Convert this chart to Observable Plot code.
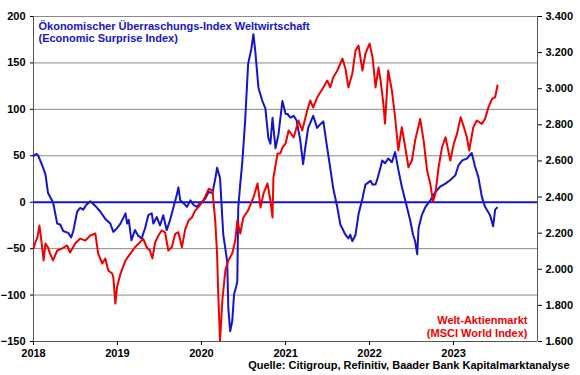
<!DOCTYPE html>
<html><head><meta charset="utf-8">
<script src="https://cdn.jsdelivr.net/npm/d3@7"></script>
<script src="https://cdn.jsdelivr.net/npm/@observablehq/plot@0.6"></script>
<style>body{margin:0;background:#fff}</style>
</head><body><div id="chart"></div>
<script>
// Economic Surprise Index (left axis)
const esiSeries = [["2018-01-01",50],["2018-01-14",52],["2018-01-22",50],["2018-02-09",39],["2018-02-22",30],["2018-03-05",10],["2018-03-27",0],["2018-04-14",-23],["2018-04-27",-24],["2018-05-10",-31],["2018-06-01",-33],["2018-06-14",-38],["2018-06-23",-31],["2018-07-10",-10],["2018-07-23",-6],["2018-08-05",-8],["2018-08-18",-3],["2018-09-05",1],["2018-09-27",-4],["2018-10-18",-10],["2018-11-09",-18],["2018-12-01",-23],["2018-12-14",-32],["2018-12-30",-28],["2019-01-14",-23],["2019-02-05",-12],["2019-02-12",-23],["2019-02-19",-19],["2019-03-03",-41],["2019-03-18",-30],["2019-04-01",-36],["2019-04-16",-39],["2019-05-01",-28],["2019-05-15",-14],["2019-05-30",-12],["2019-06-06",-23],["2019-06-21",-16],["2019-07-05",-25],["2019-07-19",-14],["2019-08-03",-30],["2019-08-18",-19],["2019-09-02",-5],["2019-09-16",8],["2019-09-23",16],["2019-10-01",2],["2019-10-15",-1],["2019-10-30",-5],["2019-11-14",2],["2019-11-28",-3],["2019-12-12",-5],["2019-12-27",-1],["2020-01-18",4],["2020-02-01",11],["2020-02-18",10],["2020-03-01",25],["2020-03-09",37],["2020-03-22",26],["2020-04-05",-35],["2020-04-14",-50],["2020-04-22",-64],["2020-04-27",-114],["2020-05-05",-139],["2020-05-14",-128],["2020-05-22",-99],["2020-06-01",-90],["2020-06-05",-85],["2020-06-09",-6],["2020-06-18",20],["2020-06-27",44],["2020-07-09",87],["2020-07-22",149],["2020-08-05",165],["2020-08-14",181],["2020-08-22",163],["2020-09-05",123],["2020-09-22",109],["2020-10-05",101],["2020-10-18",69],["2020-10-27",63],["2020-11-05",91],["2020-11-18",58],["2020-12-01",73],["2020-12-18",109],["2021-01-01",95],["2021-01-09",95],["2021-01-22",91],["2021-02-05",93],["2021-02-18",88],["2021-02-26",77],["2021-03-05",68],["2021-03-18",41],["2021-03-27",58],["2021-04-09",80],["2021-05-01",93],["2021-05-18",80],["2021-06-01",84],["2021-06-14",87],["2021-07-01",58],["2021-07-14",37],["2021-07-27",15],["2021-08-14",-6],["2021-08-27",-24],["2021-09-18",-35],["2021-10-01",-39],["2021-10-09",-35],["2021-10-18",-42],["2021-11-01",-35],["2021-11-14",-13],["2021-12-01",4],["2021-12-14",19],["2022-01-05",23],["2022-01-14",19],["2022-01-27",19],["2022-02-05",26],["2022-02-18",38],["2022-02-25",45],["2022-03-09",42],["2022-03-23",47],["2022-04-08",43],["2022-04-22",54],["2022-05-06",35],["2022-05-21",17],["2022-06-05",2],["2022-06-19",-12],["2022-06-27",-20],["2022-07-09",-35],["2022-07-18",-42],["2022-07-27",-56],["2022-08-02",-28],["2022-08-16",-14],["2022-09-01",-5],["2022-09-22",2],["2022-10-14",11],["2022-11-05",17],["2022-11-27",20],["2022-12-18",24],["2023-01-09",29],["2023-01-23",40],["2023-02-08",45],["2023-02-28",47],["2023-03-21",53],["2023-04-05",38],["2023-04-19",27],["2023-05-04",6],["2023-05-18",-5],["2023-06-09",-14],["2023-06-22",-26],["2023-07-01",-8],["2023-07-09",-6]];

// MSCI World Index (right axis)
const msciSeries = [["2018-01-01",2115],["2018-01-09",2150],["2018-01-18",2176],["2018-01-27",2242],["2018-02-05",2150],["2018-02-14",2049],["2018-02-22",2143],["2018-03-05",2121],["2018-03-14",2087],["2018-03-27",2049],["2018-04-14",2104],["2018-05-05",2115],["2018-05-27",2132],["2018-06-09",2093],["2018-07-01",2143],["2018-07-23",2170],["2018-08-14",2159],["2018-09-05",2187],["2018-09-27",2198],["2018-10-09",2087],["2018-10-27",2032],["2018-11-09",2060],["2018-11-22",1993],["2018-12-09",1977],["2018-12-14",1956],["2018-12-23",1810],["2018-12-30",1901],["2019-01-14",1975],["2019-02-05",2049],["2019-02-26",2087],["2019-03-18",2122],["2019-04-09",2150],["2019-04-23",2169],["2019-05-08",2122],["2019-05-22",2104],["2019-06-02",2060],["2019-06-14",2150],["2019-06-28",2187],["2019-07-12",2215],["2019-07-27",2205],["2019-08-10",2104],["2019-08-25",2122],["2019-09-09",2196],["2019-09-23",2205],["2019-10-08",2122],["2019-10-23",2224],["2019-11-06",2270],["2019-11-21",2288],["2019-12-05",2325],["2019-12-19",2344],["2020-01-10",2381],["2020-02-02",2446],["2020-02-18",2436],["2020-03-01",2270],["2020-03-09",2087],["2020-03-14",1866],["2020-03-22",1605],["2020-04-01",1827],["2020-04-14",1993],["2020-04-27",2049],["2020-05-14",2087],["2020-05-27",2159],["2020-06-05",2270],["2020-06-18",2198],["2020-07-01",2287],["2020-07-22",2326],["2020-08-14",2398],["2020-09-01",2475],["2020-09-14",2342],["2020-09-27",2420],["2020-10-14",2475],["2020-10-27",2381],["2020-11-05",2287],["2020-11-09",2508],["2020-11-27",2641],["2020-12-09",2641],["2020-12-18",2674],["2021-01-01",2697],["2021-01-14",2769],["2021-02-05",2730],["2021-02-26",2824],["2021-03-14",2769],["2021-04-05",2879],["2021-04-18",2935],["2021-05-01",2896],["2021-05-18",2951],["2021-06-14",3007],["2021-07-01",3045],["2021-07-14",3007],["2021-07-27",3062],["2021-08-14",3101],["2021-08-27",3140],["2021-09-05",3167],["2021-09-18",3112],["2021-10-01",3007],["2021-10-18",3084],["2021-11-01",3211],["2021-11-14",3239],["2021-12-01",3101],["2021-12-14",3195],["2022-01-01",3250],["2022-01-14",3173],["2022-01-27",3007],["2022-02-09",3117],["2022-02-18",3045],["2022-03-02",2916],["2022-03-09",2807],["2022-03-23",3101],["2022-04-08",2990],["2022-04-22",2842],["2022-05-06",2658],["2022-05-21",2787],["2022-06-05",2676],["2022-06-19",2565],["2022-07-04",2602],["2022-07-18",2713],["2022-08-09",2833],["2022-08-24",2713],["2022-09-08",2547],["2022-09-22",2473],["2022-10-04",2375],["2022-10-14",2418],["2022-10-28",2565],["2022-11-12",2676],["2022-11-27",2731],["2022-12-18",2602],["2023-01-02",2695],["2023-01-16",2750],["2023-02-01",2842],["2023-02-15",2787],["2023-02-28",2731],["2023-03-10",2658],["2023-03-28",2787],["2023-04-12",2824],["2023-05-04",2805],["2023-05-18",2833],["2023-06-02",2898],["2023-06-17",2944],["2023-07-01",2953],["2023-07-11",3018]];

const leftTicks = [-150, -100, -50, 0, 50, 100, 150, 200];
const rightTicks = [1600, 1800, 2000, 2200, 2400, 2600, 2800, 3000, 3200, 3400];
const yearTicks = ["2018-01-01", "2019-01-01", "2020-01-01", "2021-01-01", "2022-01-01", "2023-01-01"];
const xDomain = ["2018-01-01", "2024-01-01"];

const titleText = "Ökonomischer Überraschungs-Index Weltwirtschaft\n(Economic Surprise Index)";
const msciLabel = "Welt-Aktienmarkt\n(MSCI World Index)";
const sourceText = "Quelle: Citigroup, Refinitiv, Baader Bank Kapitalmarktanalyse";

const BLUE = "#1414cc", RED = "#f00000";

// right axis range mapped onto left axis range
const L0 = -150, L1 = 200, R0 = 1600, R1 = 3400;
const toLeft = v => L0 + (v - R0) / (R1 - R0) * (L1 - L0);
const fromLeft = v => R0 + (v - L0) / (L1 - L0) * (R1 - R0);

const de = d3.formatLocale({decimal: ",", thousands: ".", grouping: [3], currency: ["", " €"]});
const fmtDe = de.format(",.0f");

const esi = esiSeries.map(([d, v]) => ({date: new Date(d), value: v}));
const msci = msciSeries.map(([d, v]) => ({date: new Date(d), value: v}));
const xd = xDomain.map(d => new Date(d));

const chart = Plot.plot({
  width: 580, height: 375,
  marginLeft: 33, marginRight: 43, marginTop: 16, marginBottom: 34,
  style: {fontFamily: "'Liberation Sans', Arial, sans-serif", fontSize: "11px", fontWeight: "bold", color: "#000", background: "#fff"},
  x: {type: "utc", domain: xd},
  y: {domain: [L0, L1]},
  marks: [
    Plot.ruleY(leftTicks.filter(d => d !== 0 && d !== L0), {stroke: "#8a8a8a", strokeWidth: 1}),
    Plot.ruleY([L0], {stroke: "#555", strokeWidth: 1}),
    Plot.ruleX(xd, {stroke: "#555", strokeWidth: 1}),
    Plot.ruleY([0], {stroke: BLUE, strokeWidth: 2}),
    Plot.line(esi, {x: "date", y: "value", stroke: BLUE, strokeWidth: 2}),
    Plot.line(msci, {x: "date", y: d => toLeft(d.value), stroke: RED, strokeWidth: 2}),
    Plot.axisY(leftTicks, {anchor: "left", tickSize: 3, tickPadding: 5, label: null, fontSize: 11, fontWeight: "bold"}),
    Plot.axisY(rightTicks.map(toLeft), {anchor: "right", tickSize: 4, tickPadding: 4, label: null, fontSize: 11, fontWeight: "bold", tickFormat: d => fmtDe(Math.round(fromLeft(d)))}),
    Plot.axisX(yearTicks.map(d => new Date(d)), {tickSize: 4, tickPadding: 4, label: null, fontSize: 11, fontWeight: "bold", tickFormat: d3.utcFormat("%Y")}),
    Plot.text([titleText], {frameAnchor: "top-left", textAnchor: "start", lineAnchor: "top", dx: 5, dy: 5, fill: BLUE, fontSize: 11, fontWeight: "bold", lineHeight: 1.07}),
    Plot.text([msciLabel], {frameAnchor: "bottom-right", textAnchor: "end", lineAnchor: "bottom", dx: -10, dy: -5, fill: RED, fontSize: 11, fontWeight: "bold", lineHeight: 1.18}),
    Plot.text([sourceText], {frameAnchor: "bottom-right", textAnchor: "end", lineAnchor: "bottom", dx: 32, dy: 27, fill: "#000", fontSize: 11, fontWeight: "bold", clip: false})
  ]
});
document.getElementById("chart").appendChild(chart);
</script>
</body></html>
